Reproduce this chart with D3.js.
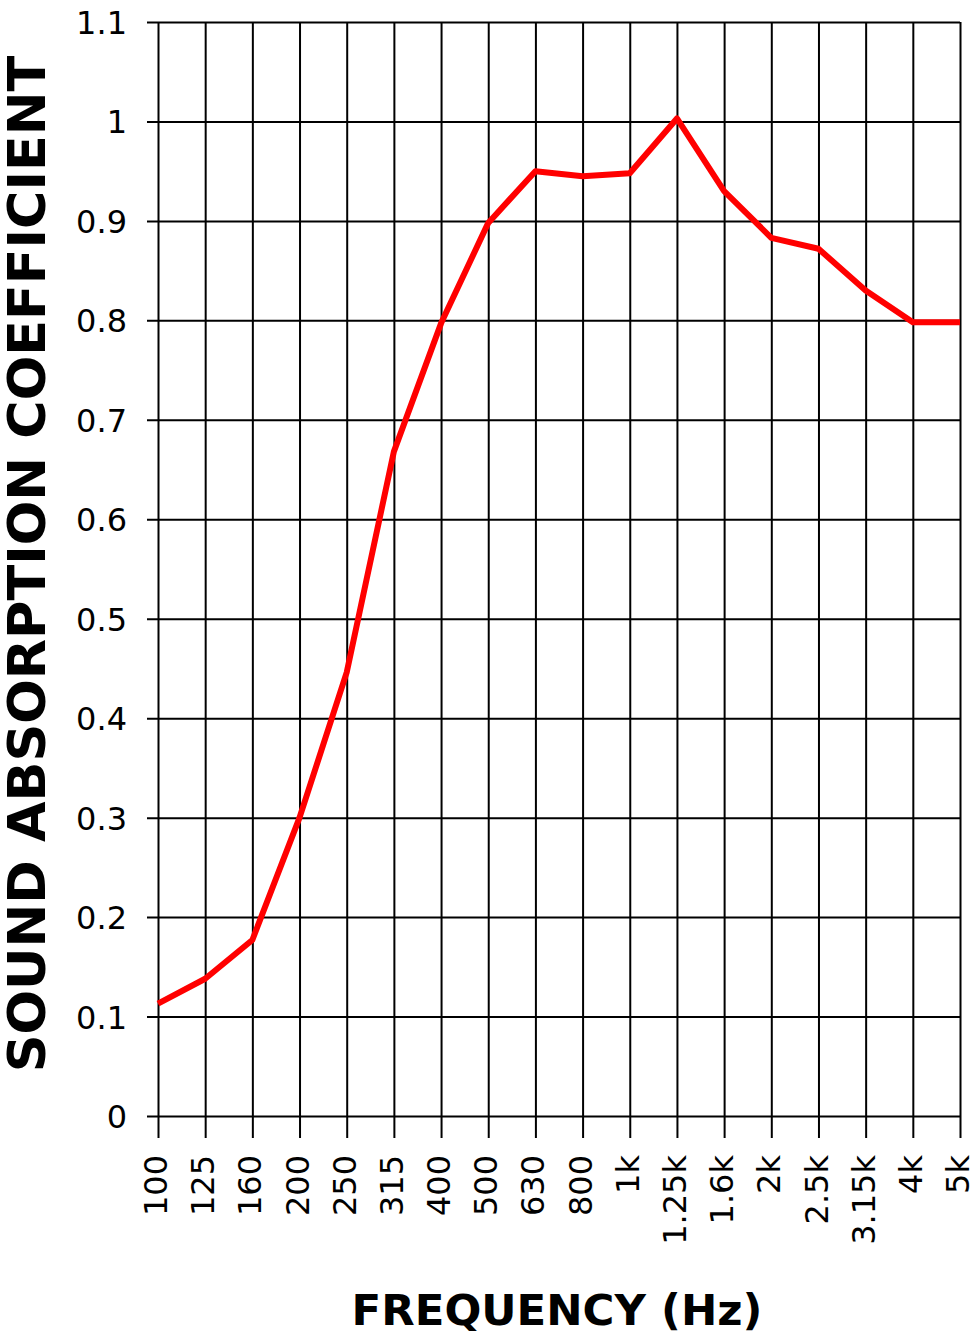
<!DOCTYPE html>
<html>
<head>
<meta charset="utf-8">
<script src="https://cdn.jsdelivr.net/npm/d3@7"></script>
<style>
  html, body { margin: 0; padding: 0; background: #fff; }
  svg { display: block; }
  .tick text { font-family: "DejaVu Sans", Verdana, sans-serif; fill: #000; }
  .title { font-family: "DejaVu Sans", Verdana, sans-serif; font-weight: bold; fill: #000; }
</style>
</head>
<body>
<div id="chart"></div>
<script>
// frequency bands (Hz) and absorption coefficients
const bands = ['100', '125', '160', '200', '250', '315', '400', '500', '630', '800',
               '1k', '1.25k', '1.6k', '2k', '2.5k', '3.15k', '4k', '5k'];
const alpha = [0.113, 0.138, 0.177, 0.30, 0.446, 0.668, 0.797, 0.898, 0.950, 0.945,
               0.948, 1.003, 0.930, 0.883, 0.872, 0.830, 0.798, 0.798];
const yTicks = [0, 0.1, 0.2, 0.3, 0.4, 0.5, 0.6, 0.7, 0.8, 0.9, 1, 1.1];
const yTickLabels = ['0', '0.1', '0.2', '0.3', '0.4', '0.5', '0.6', '0.7', '0.8', '0.9', '1', '1.1'];

const width = 971, height = 1335;
const plotLeft = 158, plotRight = 960, plotTop = 22, plotBottom = 1116;

const svg = d3.select('#chart').append('svg')
    .attr('width', width)
    .attr('height', height);

const x = d3.scalePoint().domain(bands).range([plotLeft, plotRight]);
const y = d3.scaleLinear().domain([0, 1.1]).range([plotBottom, plotTop]);

// horizontal grid + y labels (ticks stick out 11px on the left)
const yAxis = svg.append('g')
    .attr('transform', `translate(${plotLeft - 11},0)`)
    .call(d3.axisLeft(y)
        .tickValues(yTicks)
        .tickFormat((d, i) => yTickLabels[i])
        .tickSize(-(plotRight - plotLeft + 11))
        .tickPadding(20));
yAxis.select('.domain').remove();
yAxis.selectAll('.tick line').attr('stroke', '#000').attr('stroke-width', 2);
yAxis.selectAll('.tick text').attr('font-size', 32).attr('dy', '0.36em');

// vertical grid + rotated x labels (ticks stick out 22px below)
const xAxis = svg.append('g')
    .attr('transform', `translate(0,${plotBottom + 22})`)
    .call(d3.axisBottom(x)
        .tickSize(-(plotBottom + 22 - plotTop)));
xAxis.select('.domain').remove();
xAxis.selectAll('.tick line').attr('stroke', '#000').attr('stroke-width', 2);
xAxis.selectAll('.tick text')
    .attr('font-size', 32)
    .attr('text-anchor', 'end')
    .attr('x', 0)
    .attr('y', 0)
    .attr('dy', '0.36em')
    .attr('transform', 'translate(-3,17) rotate(-90)');

// the absorption curve
const line = d3.line()
    .x((d, i) => x(bands[i]))
    .y(d => y(d));

svg.append('path')
    .datum(alpha)
    .attr('fill', 'none')
    .attr('stroke', '#ff0000')
    .attr('stroke-width', 6)
    .attr('stroke-linejoin', 'round')
    .attr('d', line);

// axis titles, sized to the span they take in the original
function fit(sel, target) {
    const w = sel.node().getComputedTextLength();
    const fs = parseFloat(sel.attr('font-size'));
    sel.attr('font-size', fs * target / w);
}

const xTitle = svg.append('text')
    .attr('class', 'title')
    .attr('x', 557)
    .attr('y', 1325)
    .attr('text-anchor', 'middle')
    .attr('font-size', 44)
    .text('FREQUENCY (Hz)');
fit(xTitle, 411);

const yTitle = svg.append('text')
    .attr('class', 'title')
    .attr('transform', 'translate(45,564) rotate(-90)')
    .attr('text-anchor', 'middle')
    .attr('font-size', 44)
    .text('SOUND ABSORPTION COEFFICIENT');
fit(yTitle, 1017);
</script>
</body>
</html>
